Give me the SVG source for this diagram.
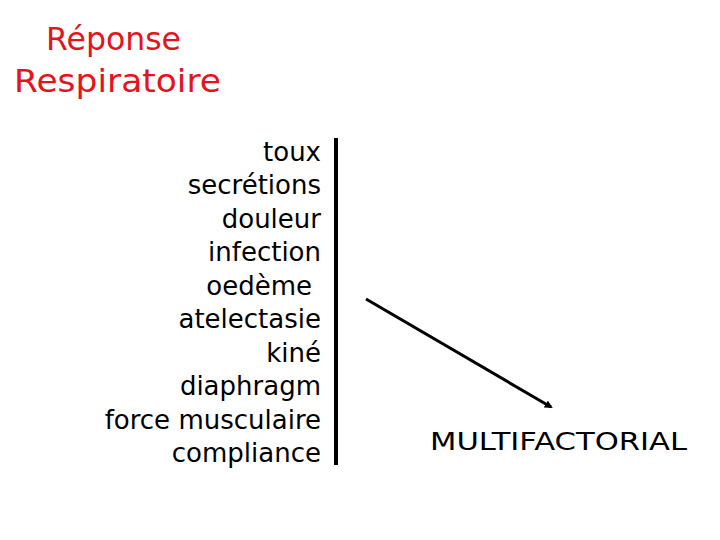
<svg xmlns="http://www.w3.org/2000/svg" width="720" height="540" viewBox="0 0 720 540">
<style>
.t{font-family:"DejaVu Sans","Noto Sans",sans-serif;font-size:26px;fill:#000;text-anchor:end}
.h{font-family:"DejaVu Sans","Noto Sans",sans-serif;font-size:32px;fill:#e5131b}
.m{font-family:"DejaVu Sans","Noto Sans",sans-serif;font-size:24px;fill:#000}
</style>
<defs>
<marker id="ah" markerWidth="8" markerHeight="8" refX="6" refY="4" orient="auto" markerUnits="userSpaceOnUse">
<path d="M0,0 L8,4 L0,8 Z" fill="#000"/>
</marker>
</defs>
<rect width="720" height="540" fill="#fff"/>
<g id="title">
<text class="h" x="46" y="50" textLength="135" lengthAdjust="spacingAndGlyphs">Réponse</text>
<text class="h" x="14" y="92" textLength="207" lengthAdjust="spacingAndGlyphs">Respiratoire</text>
</g>
<g id="factors">
<text class="t" x="321" y="161">toux</text>
<text class="t" x="321" y="194">secrétions</text>
<text class="t" x="321" y="228">douleur</text>
<text class="t" x="321" y="261">infection</text>
<text class="t" x="312" y="295">oedème</text>
<text class="t" x="321" y="328">atelectasie</text>
<text class="t" x="321" y="362">kiné</text>
<text class="t" x="321" y="395">diaphragm</text>
<text class="t" x="321" y="429">force musculaire</text>
<text class="t" x="321" y="462">compliance</text>
</g>
<g id="result">
<text class="m" x="430" y="450" textLength="257" lengthAdjust="spacingAndGlyphs">MULTIFACTORIAL</text>
</g>
<g id="connectors">
<line x1="336" y1="138" x2="336" y2="465" stroke="#000" stroke-width="4"/>
<line x1="366" y1="299" x2="551" y2="407" stroke="#000" stroke-width="3" marker-end="url(#ah)"/>
</g>
</svg>
